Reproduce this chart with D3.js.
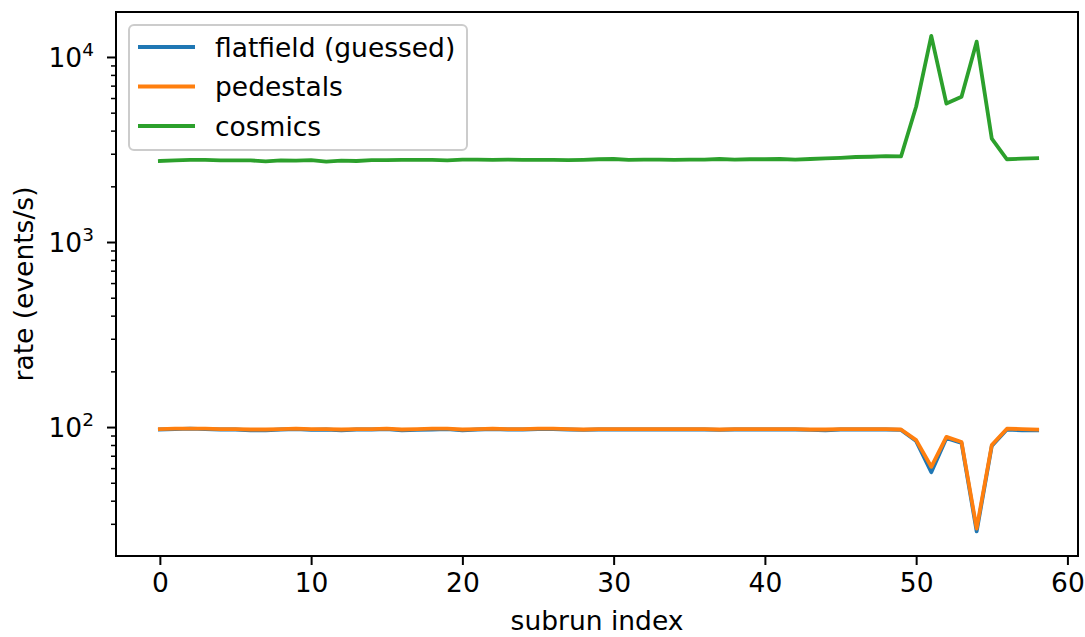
<!DOCTYPE html>
<html lang="en">
<head>
  <meta charset="UTF-8">
  <style>
    body { margin: 0; background: #fff; }
    text { font-family: "DejaVu Sans", sans-serif; fill: #000; }
    .tick text { font-size: 26.5px; font-family: "DejaVu Sans", sans-serif; }
    .axis-title { font-size: 26.5px; }
    .legend-text { font-size: 26.5px; }
  </style>
  <script src="https://d3js.org/d3.v7.min.js"></script>
</head>
<body>
  <svg id="chart" width="1085" height="637"></svg>

  <script>
    // subrun index 0..58
    const subrun = d3.range(0, 59);

    // rates (events/s)
    const flatfield = [
      97, 97.5, 98, 97.5, 97, 97, 96, 96, 97, 97.5,
      96.5, 97, 96, 97, 97, 97.5, 96, 96.5, 97, 97.5,
      96, 97, 97.5, 97, 97, 97.5, 97.5, 97, 96.5, 97,
      97, 97, 97, 97, 97, 97, 97, 96.5, 97, 97,
      97, 97, 97, 96.5, 96, 97, 97, 97, 97, 96.5,
      84, 57, 87, 82, 27.3, 79, 97, 96, 96
    ];
    const pedestals = [
      97.5, 98, 98, 98, 97.5, 97.5, 97, 97, 97.5, 98,
      97.5, 97.5, 97, 97.5, 97.5, 98, 97, 97.5, 98, 98,
      97, 97.5, 98, 97.5, 97.5, 98, 98, 97.5, 97, 97.5,
      97.5, 97.5, 97.5, 97.5, 97.5, 97.5, 97.5, 97, 97.5, 97.5,
      97.5, 97.5, 97.5, 97, 97, 97.5, 97.5, 97.5, 97.5, 97,
      85, 61, 88.5, 83, 28.3, 80, 98, 97.5, 97
    ];
    const cosmics = [
      2740, 2760, 2780, 2780, 2760, 2760, 2760, 2730, 2760, 2750,
      2770, 2720, 2750, 2740, 2770, 2770, 2780, 2780, 2780, 2760,
      2790, 2790, 2780, 2790, 2780, 2780, 2780, 2770, 2780, 2800,
      2810, 2780, 2790, 2790, 2780, 2790, 2790, 2810, 2790, 2800,
      2800, 2810, 2790, 2810, 2830, 2850, 2880, 2890, 2910, 2900,
      5400, 13000, 5600, 6100, 12100, 3620, 2800, 2820, 2840
    ];

    const seriesNames = ["flatfield (guessed)", "pedestals", "cosmics"];
    const seriesColors = ["#1f77b4", "#ff7f0e", "#2ca02c"];
    const seriesValues = [flatfield, pedestals, cosmics];

    const xTicks = [0, 10, 20, 30, 40, 50, 60];
    const yMajor = [100, 1000, 10000];

    const svg = d3.select("#chart");
    const plotLeft = 116, plotRight = 1078, plotTop = 12, plotBottom = 556;

    const x = d3.scaleLinear().domain([-2.9, 60.7]).range([plotLeft, plotRight]);
    const y = d3.scaleLog().domain([20.1, 17500]).range([plotBottom, plotTop]);

    // minor ticks on the log axis
    const yMinor = [];
    for (let p = 1; p <= 4; p++) {
      for (let m = 2; m <= 9; m++) {
        const v = m * Math.pow(10, p);
        if (v >= y.domain()[0] && v <= y.domain()[1]) yMinor.push(v);
      }
    }

    // lines
    const line = d3.line()
      .x((d, i) => x(subrun[i]))
      .y(d => y(d));

    svg.append("g")
      .selectAll("path")
      .data(seriesValues)
      .enter()
      .append("path")
      .attr("d", d => line(d))
      .attr("fill", "none")
      .attr("stroke", (d, i) => seriesColors[i])
      .attr("stroke-width", 3.8)
      .attr("stroke-linejoin", "round")
      .attr("stroke-linecap", "square");

    // x axis
    const xAxis = svg.append("g")
      .attr("transform", `translate(0,${plotBottom})`)
      .call(d3.axisBottom(x).tickValues(xTicks).tickSize(9).tickPadding(8).tickFormat(d3.format("d")));
    xAxis.select(".domain").remove();
    xAxis.selectAll(".tick line").attr("stroke-width", 2);

    // y axis major
    const yAxis = svg.append("g")
      .attr("transform", `translate(${plotLeft},0)`)
      .call(d3.axisLeft(y).tickValues(yMajor).tickSize(9).tickPadding(13).tickFormat(""));
    yAxis.select(".domain").remove();
    yAxis.selectAll(".tick line").attr("stroke-width", 2);
    yAxis.selectAll(".tick text")
      .attr("dy", "0.36em")
      .each(function(d) {
        const t = d3.select(this);
        t.append("tspan").text("10");
        t.append("tspan")
          .attr("dy", "-0.6em")
          .attr("font-size", "18.5px")
          .text(Math.round(Math.log10(d)));
      });

    // y axis minor
    const yMinorAxis = svg.append("g")
      .attr("transform", `translate(${plotLeft},0)`)
      .call(d3.axisLeft(y).tickValues(yMinor).tickSize(5).tickFormat(""));
    yMinorAxis.select(".domain").remove();
    yMinorAxis.selectAll(".tick line").attr("stroke-width", 1.5);

    // frame
    svg.append("rect")
      .attr("x", plotLeft).attr("y", plotTop)
      .attr("width", plotRight - plotLeft).attr("height", plotBottom - plotTop)
      .attr("fill", "none").attr("stroke", "#000").attr("stroke-width", 2);

    // axis titles
    svg.append("text")
      .attr("class", "axis-title")
      .attr("x", (plotLeft + plotRight) / 2).attr("y", 630)
      .attr("text-anchor", "middle")
      .text("subrun index");

    svg.append("text")
      .attr("class", "axis-title")
      .attr("transform", `translate(33,${(plotTop + plotBottom) / 2}) rotate(-90)`)
      .attr("text-anchor", "middle")
      .text("rate (events/s)");

    // legend
    const legend = svg.append("g").attr("transform", "translate(129,25)");
    legend.append("rect")
      .attr("width", 338).attr("height", 125).attr("rx", 5)
      .attr("fill", "#fff").attr("fill-opacity", 0.8)
      .attr("stroke", "#ccc").attr("stroke-width", 2);

    const items = legend.selectAll(".item")
      .data(seriesNames)
      .enter()
      .append("g")
      .attr("class", "item")
      .attr("transform", (d, i) => `translate(0,${22 + i * 39.5})`);
    items.append("line")
      .attr("x1", 9).attr("x2", 66)
      .attr("stroke", (d, i) => seriesColors[i])
      .attr("stroke-width", 3.8);
    items.append("text")
      .attr("class", "legend-text")
      .attr("x", 86).attr("dy", "0.36em")
      .text(d => d);
  </script>
</body>
</html>
